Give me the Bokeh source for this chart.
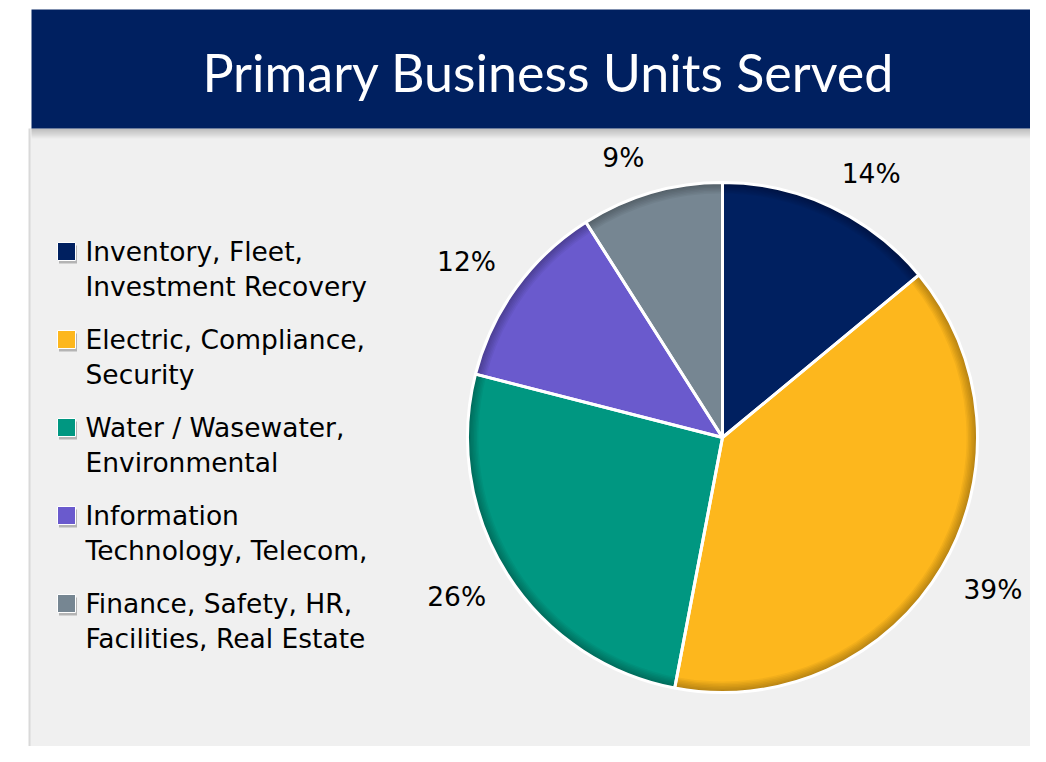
import numpy as np
from bokeh.plotting import figure
from bokeh.models import Range1d
from bokeh.embed import file_html
from bokeh.resources import INLINE
from bokeh.core.properties import value

title = "Primary Business Units Served"
categories = [
    "Inventory, Fleet,\nInvestment Recovery",
    "Electric, Compliance,\nSecurity",
    "Water / Wasewater,\nEnvironmental",
    "Information\nTechnology, Telecom,",
    "Finance, Safety, HR,\nFacilities, Real Estate",
]
shares = [14, 39, 26, 12, 9]
colors = ["#002060", "#FDB71D", "#009781", "#6A5ACD", "#768692"]

W, H = 1030, 746
p = figure(width=W, height=H, x_range=Range1d(0, W), y_range=Range1d(-H, 0),
           output_backend="svg", toolbar_location=None, min_border=0)
p.axis.visible = False
p.grid.visible = False
p.outline_line_color = None
p.background_fill_color = "white"
p.border_fill_color = "white"

# panel and title bar
p.quad(left=[28], right=[31], top=[-128], bottom=[-800], fill_color="#d9d9d9", line_color=None)
p.quad(left=[30], right=[1100], top=[-128], bottom=[-800], fill_color="#f0f0f0", line_color=None)
for k in range(10):
    p.quad(left=[31], right=[1100], top=[-128 - k], bottom=[-129 - k], fill_color="black",
           fill_alpha=0.22 * (1 - k / 10.0), line_color=None)
p.quad(left=[31], right=[1100], top=[-9], bottom=[-128], fill_color="#002060", line_color=None)
p.text(x=[548], y=[-71], text=[title], text_color="white", text_font=value("Lato"),
       text_font_size="52px", text_align="center", text_baseline="middle")

# pie
cx, cy, R = 722, -437, 255
fr = np.array(shares, dtype=float) / sum(shares)
cum = np.concatenate([[0], np.cumsum(fr)])
starts = np.pi / 2 - 2 * np.pi * cum[1:]
ends = np.pi / 2 - 2 * np.pi * cum[:-1]
p.wedge(x=cx, y=cy, radius=R, start_angle=starts, end_angle=ends, fill_color=colors,
        line_color=None)
for k in range(7):
    p.annular_wedge(x=cx, y=cy, inner_radius=R - 2 - k * 1.5, outer_radius=R, start_angle=starts,
                    end_angle=ends, fill_color="black", fill_alpha=0.045, line_color=None)
p.wedge(x=cx, y=cy, radius=R, start_angle=starts, end_angle=ends, fill_color=None,
        line_color="white", line_width=3)

# data labels: nearest corner of the label box sits just outside the rim
mids = (starts + ends) / 2
LR = R + 25
dx, dyv = np.cos(mids), np.sin(mids)
lxs = cx + LR * dx
lys = cy + LR * dyv + np.where(dyv > 0, 11, -9)
aligns = ["left" if v > 0 else "right" for v in dx]
for xx, yy, al, s in zip(lxs, lys, aligns, shares):
    p.text(x=[xx], y=[yy], text=[f"{s}%"], text_font=value("DejaVu Sans"),
           text_font_size="26.5px", text_color="black", text_align=al, text_baseline="middle")

# legend
lx, ly0, dy, lh = 66, 251, 88, 35
for i, (cat, col) in enumerate(zip(categories, colors)):
    yc = -(ly0 + dy * i)
    p.rect(x=[lx + 1.5], y=[yc - 3], width=18, height=18, fill_color="black", fill_alpha=0.25,
           line_color=None)
    p.rect(x=[lx], y=[yc], width=18, height=18, fill_color=col, line_color="white", line_width=1)
    for j, line in enumerate(cat.split("\n")):
        p.text(x=[85], y=[yc - lh * j], text=[line], text_font=value("DejaVu Sans"),
               text_font_size="26.5px", text_color="black", text_align="left",
               text_baseline="middle")

open("out.html", "w").write(file_html(p, INLINE))
